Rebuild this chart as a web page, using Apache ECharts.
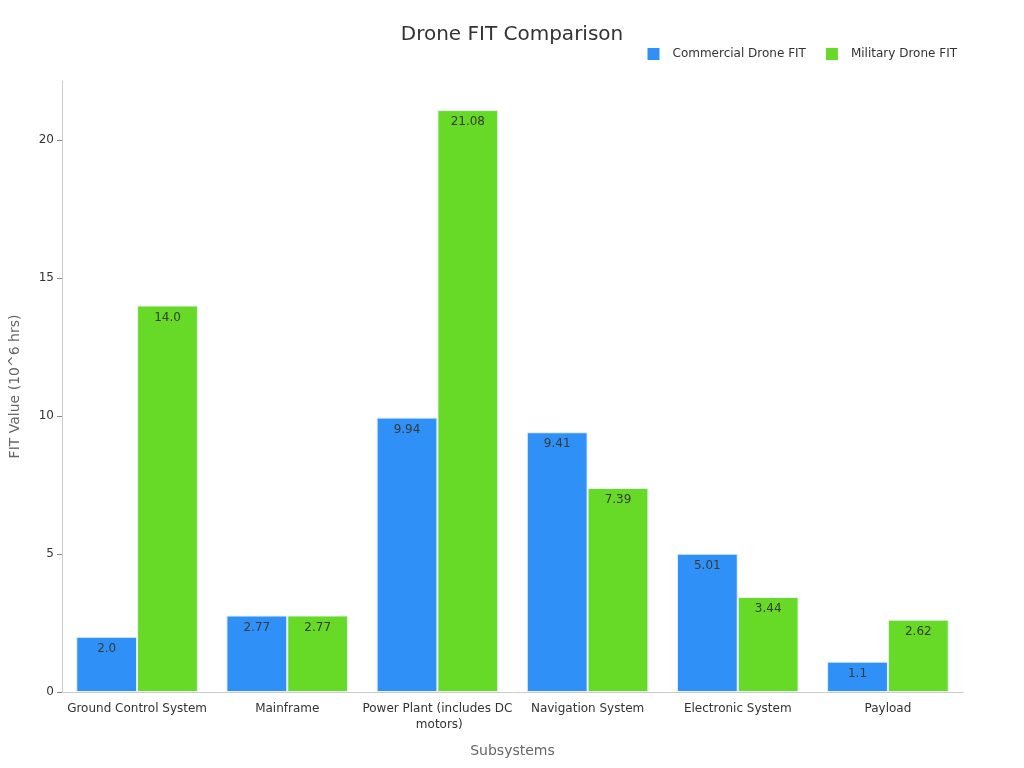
<!DOCTYPE html>
<html>
<head>
<meta charset="utf-8">
<script src="https://cdn.jsdelivr.net/npm/echarts@6/dist/echarts.min.js"></script>
<style>
  html, body { margin: 0; padding: 0; background: #fff; }
  #chart { width: 1024px; height: 768px; }
</style>
</head>
<body>
<div id="chart"></div>
<script>
const categories = ['Ground Control System', 'Mainframe', 'Power Plant (includes DC motors)', 'Navigation System', 'Electronic System', 'Payload']
const commercialFit = [2.0, 2.77, 9.94, 9.41, 5.01, 1.1]
const militaryFit = [14.0, 2.77, 21.08, 7.39, 3.44, 2.62]
const seriesNames = ['Commercial Drone FIT', 'Military Drone FIT']
const yTicks = [0, 5, 10, 15, 20]

const font = 'DejaVu Sans'
const chart = echarts.init(document.getElementById('chart'))

function barSeries(name, values, color) {
  return {
    name: name,
    type: 'bar',
    data: values,
    barGap: '0%',
    barCategoryGap: '19%',
    itemStyle: {
      color: color,
      borderColor: '#e8f0f8',
      borderWidth: 1
    },
    label: {
      show: true,
      position: 'insideTop',
      distance: 6,
      fontFamily: font,
      fontSize: 12,
      color: '#3a3a3a',
      formatter: p => Number.isInteger(p.value) ? p.value.toFixed(1) : String(p.value)
    }
  }
}

const option = {
  animation: false,
  backgroundColor: '#fff',
  textStyle: { fontFamily: font },
  title: {
    text: 'Drone FIT Comparison',
    left: 'center',
    top: 20,
    textStyle: { fontFamily: font, fontSize: 20, fontWeight: 'normal', color: '#333' }
  },
  legend: {
    data: seriesNames,
    right: 62,
    top: 43,
    icon: 'rect',
    itemWidth: 12,
    itemHeight: 12,
    itemGap: 20,
    itemStyle: { borderWidth: 0 },
    textStyle: { fontFamily: font, fontSize: 12, color: '#333', padding: [0, 0, 0, 8] }
  },
  grid: {
    left: 59,
    right: 61,
    top: 81,
    bottom: 76,
    containLabel: false
  },
  xAxis: {
    type: 'category',
    data: categories,
    name: 'Subsystems',
    nameLocation: 'middle',
    nameGap: 52,
    nameTextStyle: { fontFamily: font, fontSize: 14, color: '#666' },
    axisLine: { lineStyle: { color: '#ccc' } },
    axisTick: { alignWithLabel: true, lineStyle: { color: '#888' } },
    axisLabel: {
      interval: 0,
      fontFamily: font,
      fontSize: 12,
      lineHeight: 16,
      color: '#333',
      margin: 9,
      width: 152,
      overflow: 'break'
    }
  },
  yAxis: {
    type: 'value',
    min: 0,
    max: 22.134,
    interval: 5,
    name: 'FIT Value (10^6 hrs)',
    nameLocation: 'middle',
    nameGap: 40,
    nameTextStyle: { fontFamily: font, fontSize: 14, color: '#666' },
    axisLine: { show: true, lineStyle: { color: '#ccc' } },
    axisTick: { show: true, customValues: yTicks, lineStyle: { color: '#888' } },
    splitLine: { show: false },
    axisLabel: {
      customValues: yTicks,
      fontFamily: font,
      fontSize: 12,
      color: '#333'
    }
  },
  series: [
    barSeries(seriesNames[0], commercialFit, '#2f90f8'),
    barSeries(seriesNames[1], militaryFit, '#66da26')
  ]
}

chart.setOption(option)
</script>
</body>
</html>
